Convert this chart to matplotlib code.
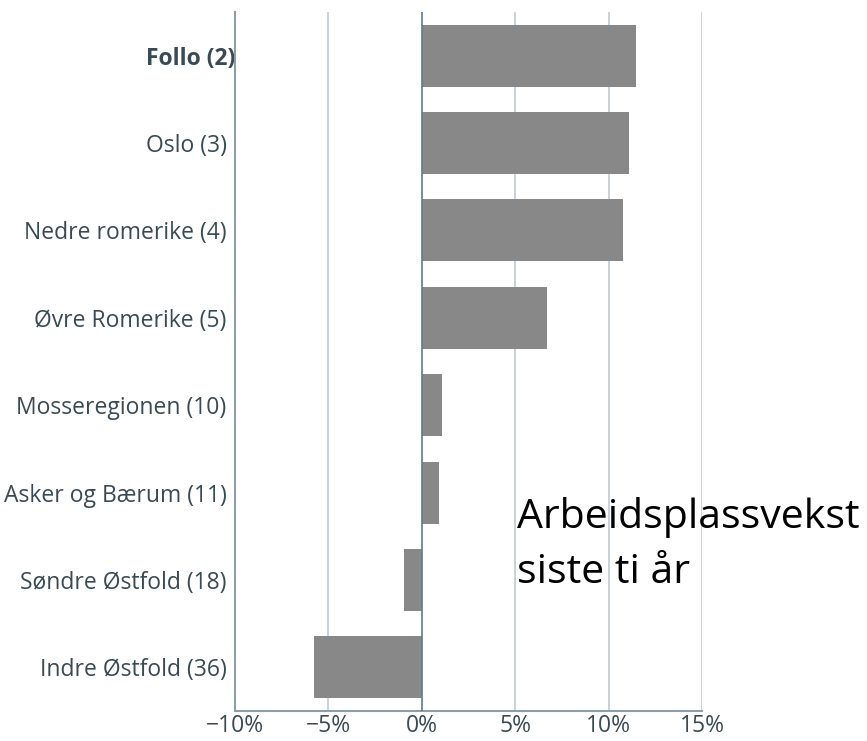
import matplotlib as mpl
mpl.use('Agg')
from matplotlib import pyplot as plt
from matplotlib.transforms import ScaledTranslation

regions = ['Follo (2)', 'Oslo (3)', 'Nedre romerike (4)', 'Øvre Romerike (5)',
           'Mosseregionen (10)', 'Asker og Bærum (11)', 'Søndre Østfold (18)',
           'Indre Østfold (36)']
growth = [11.45, 11.07, 10.75, 6.68, 1.07, 0.9, -0.96, -5.78]
xticks = [-10, -5, 0, 5, 10, 15]
tickLabels = ['\u221210%', '\u22125%', '0%', '5%', '10%', '15%']

plt.rcParams['font.family'] = ['Open Sans', 'DejaVu Sans']

fig = plt.figure(figsize=(8.67, 7.41), dpi=100)
axes = fig.add_axes([0.271, 0.0405, 0.5387, 0.9433])

ypos = list(range(len(regions)))
axes.barh(ypos, growth, height=0.71, color='#888888', zorder=2)

for x in xticks:
    if x == 0:
        axes.axvline(x, color='#5f7b8c', lw=1.2, zorder=3)
    elif x != -10:
        axes.axvline(x, color='#c4cfd5', lw=1.3, zorder=1)

axes.set_xlim(-10, 15)
axes.set_ylim(len(regions) - 0.5, -0.5)

axes.set_xticks(xticks)
axes.set_xticklabels(tickLabels)
axes.set_yticks(ypos)
axes.set_yticklabels(regions)

for s in ['top', 'right']:
    axes.spines[s].set_visible(False)
for s in ['left', 'bottom']:
    axes.spines[s].set_color('#8d9ea8')
    axes.spines[s].set_linewidth(1.5)

axes.tick_params(axis='both', length=0, labelsize=16.5, colors='#3a4a53')
axes.tick_params(axis='y', pad=6)
axes.tick_params(axis='x', pad=2.5)

# bold first label sits right against the axis in the original
follo = axes.get_yticklabels()[0]
follo.set_fontweight('bold')
follo.set_transform(follo.get_transform() + ScaledTranslation(9 / 100, 0, fig.dpi_scale_trans))

axes.text(5.1, 6.035, 'Arbeidsplassvekst\nsiste ti år', fontsize=29.5,
          color='black', ha='left', va='baseline', linespacing=1.47,
          family=['Open Sans', 'DejaVu Sans'], zorder=4)

fig.savefig('out.png', dpi=100)
